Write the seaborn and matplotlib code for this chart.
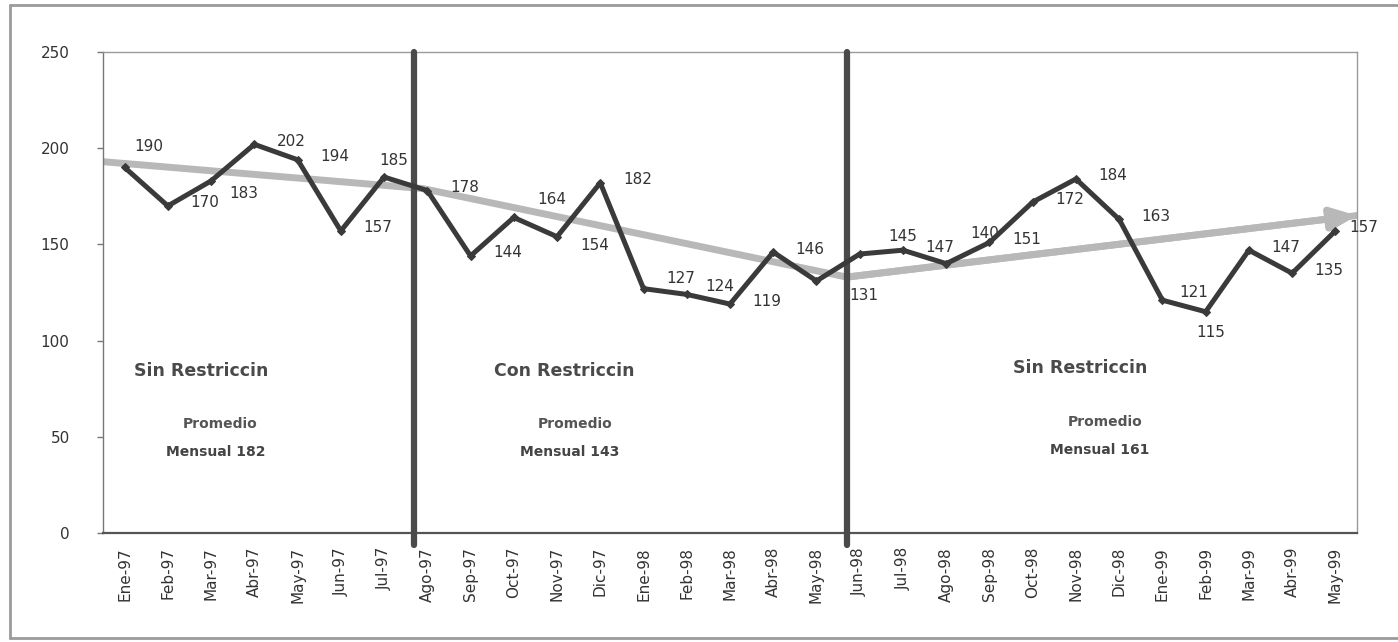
import matplotlib
matplotlib.use('Agg')
import matplotlib.pyplot as plt
from matplotlib.lines import Line2D
import numpy as np
import pandas as pd
import seaborn as sns

# monthly series, Ene-97 .. May-99
months = ['Ene-97', 'Feb-97', 'Mar-97', 'Abr-97', 'May-97', 'Jun-97', 'Jul-97',
          'Ago-97', 'Sep-97', 'Oct-97', 'Nov-97', 'Dic-97', 'Ene-98', 'Feb-98',
          'Mar-98', 'Abr-98', 'May-98', 'Jun-98', 'Jul-98', 'Ago-98', 'Sep-98',
          'Oct-98', 'Nov-98', 'Dic-98', 'Ene-99', 'Feb-99', 'Mar-99', 'Abr-99',
          'May-99']
values = [190, 170, 183, 202, 194, 157, 185,
          178, 144, 164, 154, 182, 127, 124, 119, 146, 131,
          145, 147, 140, 151, 172, 184, 163, 121, 115, 147, 135, 157]

# grey trend (polyline + arrow for the last period)
trend_x = [-0.5, 6.9, 16.7]
trend_y = [193, 179, 133]
arrow_x = [16.7, 28.5]
arrow_y = [133, 165]

# period separators and period texts
breaks = [6.7, 16.7]
period_names = ['Sin Restriccin', 'Con Restriccin', 'Sin Restriccin']
period_avgs = [182, 143, 161]

# label nudges in pixels (dx, dy); default is to the right
label_nudge = {0: (24, 21), 2: (33, -13), 6: (10, 17), 9: (38, 18), 10: (38, -9),
               12: (37, 10), 13: (33, 8), 16: (47, -15), 17: (43, 18),
               19: (39, 30), 24: (31, 8), 25: (5, -21), 28: (28, 3)}

sns.set_style('white')
plt.rcParams['font.family'] = ['DejaVu Sans']

df = pd.DataFrame({'x': np.arange(len(months)), 'valor': values})

fig = plt.figure(figsize=(13.98, 6.42), dpi=100)
ax = fig.add_axes([103 / 1398, 109 / 642, 1254 / 1398, 481 / 642])

dark = '#3a3a3a'
grey = '#b8b8b8'

ax.plot(trend_x, trend_y, color=grey, lw=5, solid_capstyle='butt', zorder=2)
ax.plot(arrow_x, arrow_y, color=grey, lw=5, zorder=2)
ax.annotate('', xy=(arrow_x[1], arrow_y[1]), xytext=(arrow_x[0], arrow_y[0]),
            arrowprops=dict(arrowstyle='-|>,head_length=1.5,head_width=0.65',
                            color=grey, lw=5, shrinkA=0, shrinkB=0),
            annotation_clip=False, zorder=2)

for b in breaks:
    ax.plot([b, b], [-6, 250], color='#4a4a4a', lw=4.5, clip_on=False, zorder=3)

sns.lineplot(data=df, x='x', y='valor', ax=ax, color=dark, lw=3.6,
             marker='D', markersize=4.5, markeredgecolor=dark, zorder=4)

for i, v in enumerate(values):
    dx, dy = label_nudge.get(i, (37, 3))
    ax.annotate(str(v), (i, v), xytext=(dx, dy), textcoords='offset pixels',
                ha='center', va='center', fontsize=11, color='#333333',
                annotation_clip=False)

# period captions
name_pos = [(1.77, 84), (10.16, 84), (22.1, 86)]
avg_pos = [(2.2, 56.5, 2.1, 42), (10.42, 56.5, 10.3, 42), (22.67, 57.5, 22.56, 43)]
for name, avg, (nx, ny), (px, py, mx, my) in zip(period_names, period_avgs, name_pos, avg_pos):
    ax.text(nx, ny, name, ha='center', va='center', fontsize=12.5,
            fontweight='bold', color='#4a4a4a')
    ax.text(px, py, 'Promedio', ha='center', va='center', fontsize=10,
            fontweight='bold', color='#555555')
    ax.text(mx, my, 'Mensual {}'.format(avg), ha='center', va='center',
            fontsize=10, fontweight='bold', color='#444444')

ax.set_xlim(-0.5, 28.5)
ax.set_ylim(0, 250)
ax.set_yticks([0, 50, 100, 150, 200, 250])
ax.set_xticks(np.arange(len(months)))
ax.set_xticklabels(months, rotation=90, fontsize=11, color='#333333')
ax.tick_params(axis='y', labelsize=11, labelcolor='#333333', length=4,
               width=1, color='#777777', direction='out', left=True, pad=20)
ax.tick_params(axis='x', length=0, pad=10)
ax.set_xlabel('')
ax.set_ylabel('')

for side in ['top', 'right']:
    ax.spines[side].set_color('#9a9a9a')
    ax.spines[side].set_linewidth(1.0)
ax.spines['left'].set_color('#777777')
ax.spines['left'].set_linewidth(1.0)
ax.spines['bottom'].set_color('#555555')
ax.spines['bottom'].set_linewidth(1.6)

# outer frame of the picture
W, H = 1398, 642
frame = dict(color='#9a9a9a', lw=2, transform=fig.transFigure)
fig.add_artist(Line2D([10 / W, 10 / W], [1 - 5 / H, 1 - 638 / H], **frame))
fig.add_artist(Line2D([10 / W, 1], [1 - 5 / H, 1 - 5 / H], **frame))
fig.add_artist(Line2D([10 / W, 1], [1 - 638 / H, 1 - 638 / H], **frame))

fig.savefig('out.png', dpi=100)
